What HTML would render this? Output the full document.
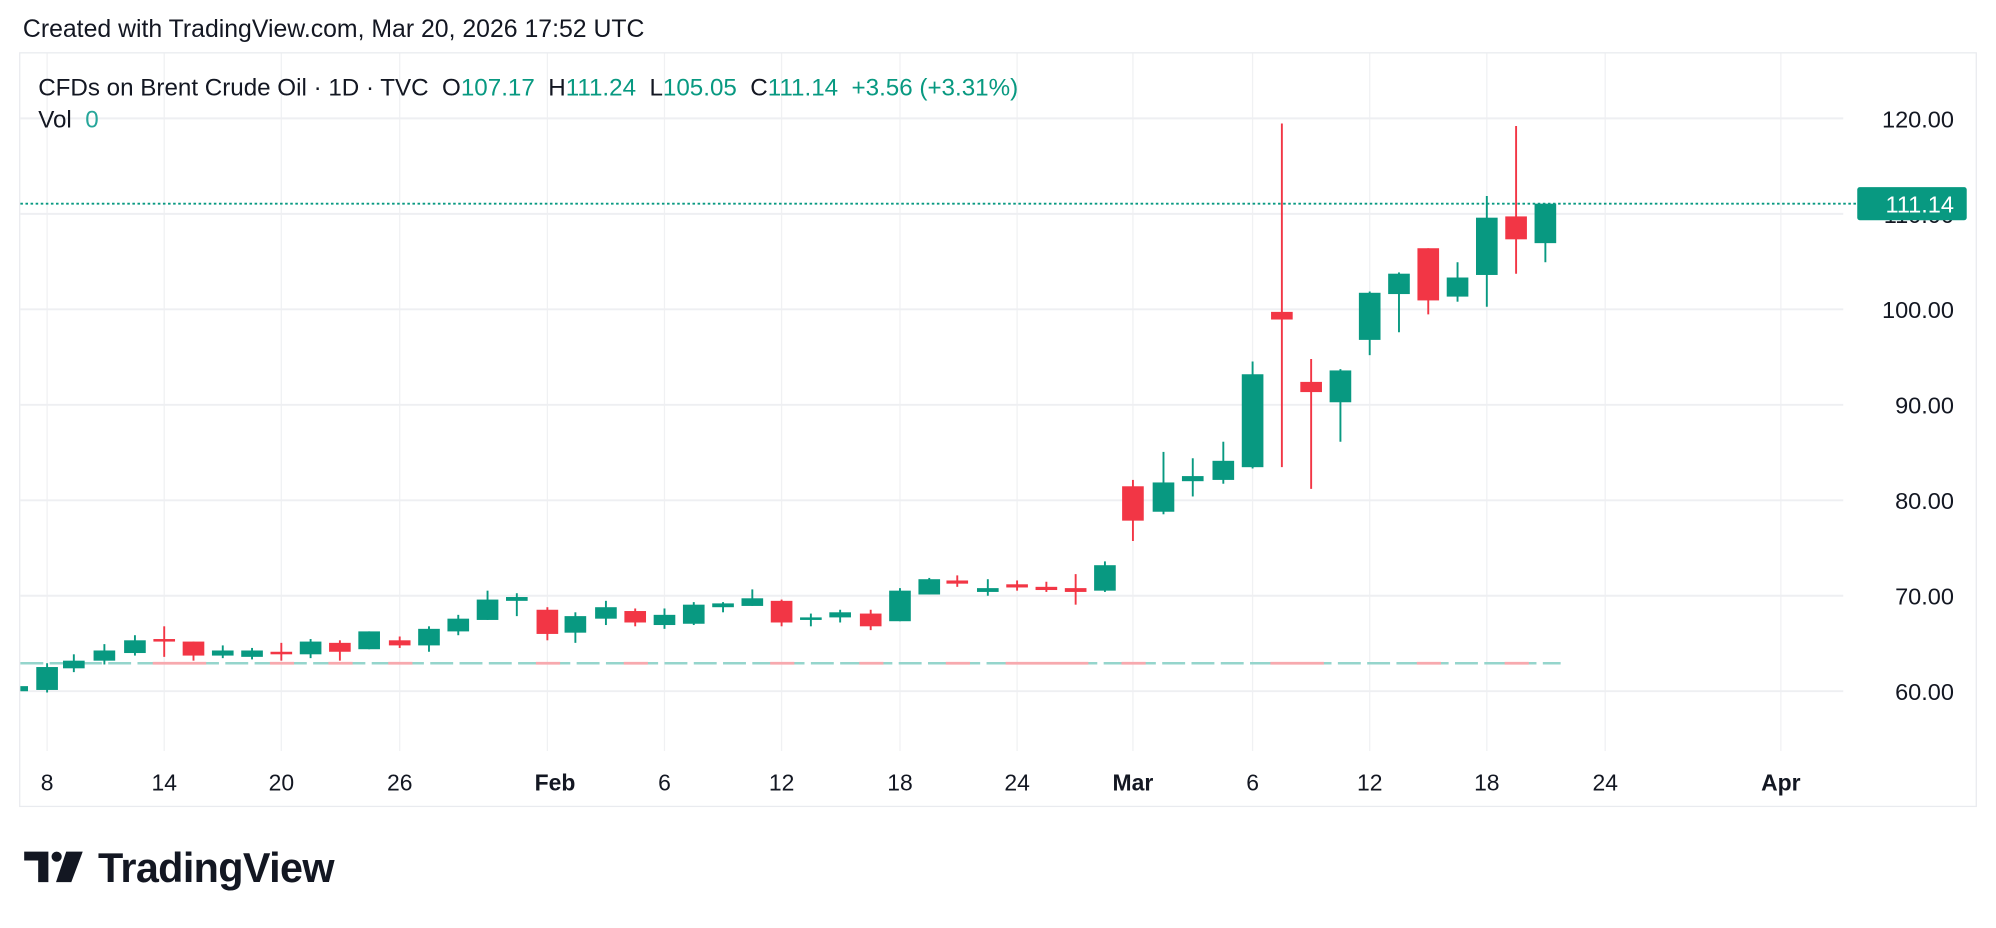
<!DOCTYPE html>
<html><head><meta charset="utf-8"><style>
html,body{margin:0;padding:0;background:#fff;}
svg{display:block}
text{font-family:"Liberation Sans",sans-serif;white-space:pre;}
</style></head><body>
<svg width="1996" height="928" viewBox="0 0 1568 729" xmlns="http://www.w3.org/2000/svg" xml:space="preserve">
<rect width="1568" height="729" fill="#fff"/>
<text x="18" y="29" font-size="19.5" fill="#131722">Created with TradingView.com, Mar 20, 2026 17:52 UTC</text>
<rect x="15.5" y="41.5" width="1537" height="592" fill="none" stroke="#e9ebef" stroke-width="1"/>
<g stroke="#f0f1f3" stroke-width="1">
<line x1="37" y1="42" x2="37" y2="590"/><line x1="129" y1="42" x2="129" y2="590"/><line x1="221" y1="42" x2="221" y2="590"/><line x1="314" y1="42" x2="314" y2="590"/><line x1="430" y1="42" x2="430" y2="590"/><line x1="522" y1="42" x2="522" y2="590"/><line x1="614" y1="42" x2="614" y2="590"/><line x1="707" y1="42" x2="707" y2="590"/><line x1="799" y1="42" x2="799" y2="590"/><line x1="890" y1="42" x2="890" y2="590"/><line x1="984" y1="42" x2="984" y2="590"/><line x1="1076" y1="42" x2="1076" y2="590"/><line x1="1168" y1="42" x2="1168" y2="590"/><line x1="1261" y1="42" x2="1261" y2="590"/><line x1="1399" y1="42" x2="1399" y2="590"/>
</g>
<g stroke="#eeeff2" stroke-width="1.5">
<line x1="16" y1="93" x2="1448" y2="93"/><line x1="16" y1="168" x2="1448" y2="168"/><line x1="16" y1="243" x2="1448" y2="243"/><line x1="16" y1="318" x2="1448" y2="318"/><line x1="16" y1="393" x2="1448" y2="393"/><line x1="16" y1="468" x2="1448" y2="468"/><line x1="16" y1="543" x2="1448" y2="543"/>
</g>
<text x="30" y="75" font-size="19" fill="#131722">CFDs on Brent Crude Oil · 1D · TVC  O<tspan fill="#089981">107.17</tspan>  H<tspan fill="#089981">111.24</tspan>  L<tspan fill="#089981">105.05</tspan>  C<tspan fill="#089981">111.14</tspan>  <tspan fill="#089981">+3.56 (+3.31%)</tspan></text>
<text x="30" y="100" font-size="19" fill="#131722">Vol  <tspan fill="#26a69a">0</tspan></text>
<g font-size="18.5" fill="#131722" text-anchor="end">
<text x="1535" y="100">120.00</text><text x="1535" y="175">110.00</text><text x="1535" y="250">100.00</text><text x="1535" y="325">90.00</text><text x="1535" y="400">80.00</text><text x="1535" y="475">70.00</text><text x="1535" y="550">60.00</text>
</g>
<line x1="16" y1="521" x2="1226" y2="521" stroke="#95d5cc" stroke-width="2" stroke-dasharray="18 5"/>
<g stroke="#f7a9ae" stroke-width="2.2">
<line x1="120" y1="521" x2="162" y2="521"/><line x1="212" y1="521" x2="231" y2="521"/><line x1="258" y1="521" x2="277" y2="521"/><line x1="305" y1="521" x2="324" y2="521"/><line x1="421" y1="521" x2="440" y2="521"/><line x1="490" y1="521" x2="509" y2="521"/><line x1="605" y1="521" x2="624" y2="521"/><line x1="675" y1="521" x2="694" y2="521"/><line x1="743" y1="521" x2="762" y2="521"/><line x1="790" y1="521" x2="855" y2="521"/><line x1="881" y1="521" x2="900" y2="521"/><line x1="998" y1="521" x2="1040" y2="521"/><line x1="1113" y1="521" x2="1132" y2="521"/><line x1="1182" y1="521" x2="1201" y2="521"/>
</g>
<line x1="16" y1="160" x2="1458" y2="160" stroke="#089981" stroke-width="1.5" stroke-dasharray="2 2"/>
<rect x="1459" y="147" width="86" height="26" rx="2" fill="#089981"/>
<text x="1535" y="167" font-size="18.5" fill="#fff" text-anchor="end">111.14</text>
<rect x="16" y="539" width="6" height="4" fill="#089981"/>
<g>
<line x1="37" y1="521" x2="37" y2="544" stroke="#089981" stroke-width="1.5"/><rect x="28.5" y="524" width="17" height="18" fill="#089981"/>
<line x1="58" y1="514" x2="58" y2="528" stroke="#089981" stroke-width="1.5"/><rect x="49.5" y="519" width="17" height="6" fill="#089981"/>
<line x1="82" y1="506" x2="82" y2="522" stroke="#089981" stroke-width="1.5"/><rect x="73.5" y="511" width="17" height="8" fill="#089981"/>
<line x1="106" y1="499" x2="106" y2="515" stroke="#089981" stroke-width="1.5"/><rect x="97.5" y="503" width="17" height="10" fill="#089981"/>
<line x1="129" y1="492" x2="129" y2="516" stroke="#f23645" stroke-width="1.5"/><rect x="120.5" y="502" width="17" height="2" fill="#f23645"/>
<line x1="152" y1="504" x2="152" y2="519" stroke="#f23645" stroke-width="1.5"/><rect x="143.5" y="504" width="17" height="11" fill="#f23645"/>
<line x1="175" y1="507" x2="175" y2="517" stroke="#089981" stroke-width="1.5"/><rect x="166.5" y="511" width="17" height="4" fill="#089981"/>
<line x1="198" y1="509" x2="198" y2="518" stroke="#089981" stroke-width="1.5"/><rect x="189.5" y="511" width="17" height="5" fill="#089981"/>
<line x1="221" y1="505" x2="221" y2="519" stroke="#f23645" stroke-width="1.5"/><rect x="212.5" y="512" width="17" height="2" fill="#f23645"/>
<line x1="244" y1="502" x2="244" y2="517" stroke="#089981" stroke-width="1.5"/><rect x="235.5" y="504" width="17" height="10" fill="#089981"/>
<line x1="267" y1="503" x2="267" y2="519" stroke="#f23645" stroke-width="1.5"/><rect x="258.5" y="505" width="17" height="7" fill="#f23645"/>
<line x1="290" y1="496" x2="290" y2="510" stroke="#089981" stroke-width="1.5"/><rect x="281.5" y="496" width="17" height="14" fill="#089981"/>
<line x1="314" y1="500" x2="314" y2="509" stroke="#f23645" stroke-width="1.5"/><rect x="305.5" y="503" width="17" height="4" fill="#f23645"/>
<line x1="337" y1="492" x2="337" y2="512" stroke="#089981" stroke-width="1.5"/><rect x="328.5" y="494" width="17" height="13" fill="#089981"/>
<line x1="360" y1="483" x2="360" y2="499" stroke="#089981" stroke-width="1.5"/><rect x="351.5" y="486" width="17" height="10" fill="#089981"/>
<line x1="383" y1="464" x2="383" y2="487" stroke="#089981" stroke-width="1.5"/><rect x="374.5" y="471" width="17" height="16" fill="#089981"/>
<line x1="406" y1="466" x2="406" y2="484" stroke="#089981" stroke-width="1.5"/><rect x="397.5" y="469" width="17" height="3" fill="#089981"/>
<line x1="430" y1="477" x2="430" y2="503" stroke="#f23645" stroke-width="1.5"/><rect x="421.5" y="479" width="17" height="19" fill="#f23645"/>
<line x1="452" y1="481" x2="452" y2="505" stroke="#089981" stroke-width="1.5"/><rect x="443.5" y="484" width="17" height="13" fill="#089981"/>
<line x1="476" y1="472" x2="476" y2="491" stroke="#089981" stroke-width="1.5"/><rect x="467.5" y="477" width="17" height="9" fill="#089981"/>
<line x1="499" y1="478" x2="499" y2="492" stroke="#f23645" stroke-width="1.5"/><rect x="490.5" y="480" width="17" height="9" fill="#f23645"/>
<line x1="522" y1="478" x2="522" y2="494" stroke="#089981" stroke-width="1.5"/><rect x="513.5" y="483" width="17" height="8" fill="#089981"/>
<line x1="545" y1="473" x2="545" y2="491" stroke="#089981" stroke-width="1.5"/><rect x="536.5" y="475" width="17" height="15" fill="#089981"/>
<line x1="568" y1="473" x2="568" y2="481" stroke="#089981" stroke-width="1.5"/><rect x="559.5" y="474" width="17" height="3" fill="#089981"/>
<line x1="591" y1="463" x2="591" y2="476" stroke="#089981" stroke-width="1.5"/><rect x="582.5" y="470" width="17" height="6" fill="#089981"/>
<line x1="614" y1="471" x2="614" y2="492" stroke="#f23645" stroke-width="1.5"/><rect x="605.5" y="472" width="17" height="17" fill="#f23645"/>
<line x1="637" y1="482" x2="637" y2="492" stroke="#089981" stroke-width="1.5"/><rect x="628.5" y="485" width="17" height="2" fill="#089981"/>
<line x1="660" y1="479" x2="660" y2="489" stroke="#089981" stroke-width="1.5"/><rect x="651.5" y="481" width="17" height="4" fill="#089981"/>
<line x1="684" y1="479" x2="684" y2="495" stroke="#f23645" stroke-width="1.5"/><rect x="675.5" y="482" width="17" height="10" fill="#f23645"/>
<line x1="707" y1="462" x2="707" y2="488" stroke="#089981" stroke-width="1.5"/><rect x="698.5" y="464" width="17" height="24" fill="#089981"/>
<line x1="730" y1="454" x2="730" y2="467" stroke="#089981" stroke-width="1.5"/><rect x="721.5" y="455" width="17" height="12" fill="#089981"/>
<line x1="752" y1="452" x2="752" y2="461" stroke="#f23645" stroke-width="1.5"/><rect x="743.5" y="456" width="17" height="2.5" fill="#f23645"/>
<line x1="776" y1="455" x2="776" y2="468" stroke="#089981" stroke-width="1.5"/><rect x="767.5" y="462" width="17" height="3" fill="#089981"/>
<line x1="799" y1="456" x2="799" y2="464" stroke="#f23645" stroke-width="1.5"/><rect x="790.5" y="459" width="17" height="2.5" fill="#f23645"/>
<line x1="822" y1="457" x2="822" y2="465" stroke="#f23645" stroke-width="1.5"/><rect x="813.5" y="461" width="17" height="2.5" fill="#f23645"/>
<line x1="845" y1="451" x2="845" y2="475" stroke="#f23645" stroke-width="1.5"/><rect x="836.5" y="462" width="17" height="3" fill="#f23645"/>
<line x1="868" y1="441" x2="868" y2="465" stroke="#089981" stroke-width="1.5"/><rect x="859.5" y="444" width="17" height="20" fill="#089981"/>
<line x1="890" y1="377" x2="890" y2="425" stroke="#f23645" stroke-width="1.5"/><rect x="881.5" y="382" width="17" height="27" fill="#f23645"/>
<line x1="914" y1="355" x2="914" y2="404" stroke="#089981" stroke-width="1.5"/><rect x="905.5" y="379" width="17" height="23" fill="#089981"/>
<line x1="937" y1="360" x2="937" y2="390" stroke="#089981" stroke-width="1.5"/><rect x="928.5" y="374" width="17" height="4" fill="#089981"/>
<line x1="961" y1="347" x2="961" y2="380" stroke="#089981" stroke-width="1.5"/><rect x="952.5" y="362" width="17" height="15" fill="#089981"/>
<line x1="984" y1="284" x2="984" y2="368" stroke="#089981" stroke-width="1.5"/><rect x="975.5" y="294" width="17" height="73" fill="#089981"/>
<line x1="1007" y1="97" x2="1007" y2="367" stroke="#f23645" stroke-width="1.5"/><rect x="998.5" y="245" width="17" height="6" fill="#f23645"/>
<line x1="1030" y1="282" x2="1030" y2="384" stroke="#f23645" stroke-width="1.5"/><rect x="1021.5" y="300" width="17" height="8" fill="#f23645"/>
<line x1="1053" y1="290" x2="1053" y2="347" stroke="#089981" stroke-width="1.5"/><rect x="1044.5" y="291" width="17" height="25" fill="#089981"/>
<line x1="1076" y1="229" x2="1076" y2="279" stroke="#089981" stroke-width="1.5"/><rect x="1067.5" y="230" width="17" height="37" fill="#089981"/>
<line x1="1099" y1="214" x2="1099" y2="261" stroke="#089981" stroke-width="1.5"/><rect x="1090.5" y="215" width="17" height="16" fill="#089981"/>
<line x1="1122" y1="195" x2="1122" y2="247" stroke="#f23645" stroke-width="1.5"/><rect x="1113.5" y="195" width="17" height="41" fill="#f23645"/>
<line x1="1145" y1="206" x2="1145" y2="237" stroke="#089981" stroke-width="1.5"/><rect x="1136.5" y="218" width="17" height="15" fill="#089981"/>
<line x1="1168" y1="154" x2="1168" y2="241" stroke="#089981" stroke-width="1.5"/><rect x="1159.5" y="171" width="17" height="45" fill="#089981"/>
<line x1="1191" y1="99" x2="1191" y2="215" stroke="#f23645" stroke-width="1.5"/><rect x="1182.5" y="170" width="17" height="18" fill="#f23645"/>
<line x1="1214" y1="160" x2="1214" y2="206" stroke="#089981" stroke-width="1.5"/><rect x="1205.5" y="160" width="17" height="31" fill="#089981"/>
</g>
<g font-size="18" fill="#131722" text-anchor="middle">
<text x="37" y="621">8</text><text x="129" y="621">14</text><text x="221" y="621">20</text><text x="314" y="621">26</text><text x="436" y="621" font-weight="bold">Feb</text><text x="522" y="621">6</text><text x="614" y="621">12</text><text x="707" y="621">18</text><text x="799" y="621">24</text><text x="890" y="621" font-weight="bold">Mar</text><text x="984" y="621">6</text><text x="1076" y="621">12</text><text x="1168" y="621">18</text><text x="1261" y="621">24</text><text x="1399" y="621" font-weight="bold">Apr</text>
</g>
<g fill="#131722">
<path d="M19 669 H38 V693 H30 V676 H19 Z"/>
<circle cx="44.5" cy="673" r="4"/>
<path d="M52 669 H65 L56 693 H44 Z"/>
</g>
<text x="77" y="693" font-size="32.5" font-weight="bold" fill="#131722" letter-spacing="-0.5">TradingView</text>
</svg>
</body></html>
